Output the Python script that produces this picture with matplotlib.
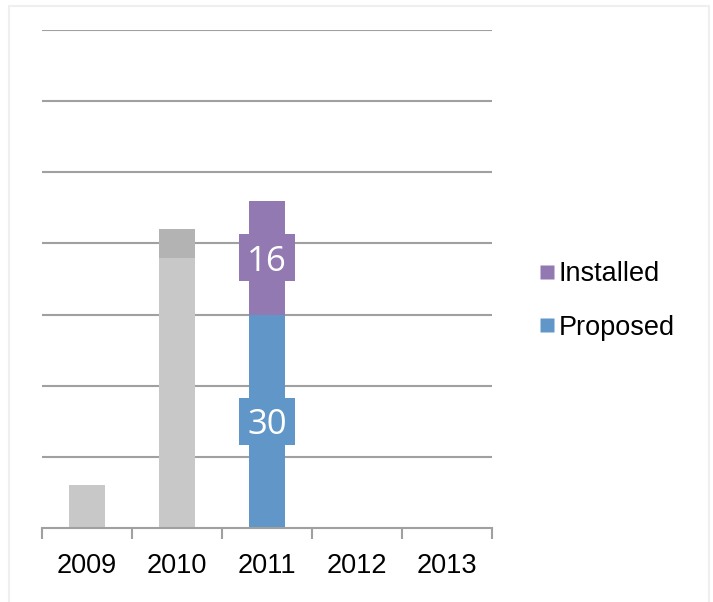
import matplotlib.pyplot as plt
from matplotlib.lines import Line2D
from matplotlib.patches import Rectangle
from matplotlib.transforms import ScaledTranslation

# data
years = ['2009', '2010', '2011', '2012', '2013']
earlier = [6, 38, 0, 0, 0]
earlier_extra = [0, 4, 0, 0, 0]
proposed = [0, 0, 30, 0, 0]
installed = [0, 0, 16, 0, 0]

c_gray = '#C8C8C8'
c_gray2 = '#B3B3B3'
c_blue = '#6096C8'
c_purple = '#9279B2'
c_grid = '#A0A0A0'

W, H = 713, 602
fig = plt.figure(figsize=(W / 100, H / 100), dpi=100)
fig.patches.append(Rectangle((9 / W, -0.1), 700 / W, 1.1 - 6 / H, transform=fig.transFigure,
                             fill=False, edgecolor='#EFEFEF', linewidth=1.5))

ax = fig.add_axes([42 / W, (H - 528) / H, 450 / W, 498 / H])
x = range(len(years))
bw = 0.41

ax.bar(x, earlier, bw, color=c_gray, zorder=2)
ax.bar(x, earlier_extra, bw, bottom=earlier, color=c_gray2, zorder=2)
ax.bar(x, proposed, bw, color=c_blue, zorder=2)
ax.bar(x, installed, bw, bottom=proposed, color=c_purple, zorder=2)


def value_label(xpos, ypos, txt, col):
    # box of fixed size (in inches) centred on the data point
    tr = fig.dpi_scale_trans + ScaledTranslation(xpos, ypos, ax.transData)
    ax.add_patch(Rectangle((-0.28, -0.235), 0.56, 0.47, transform=tr,
                           facecolor=col, edgecolor='none', zorder=3))
    ax.text(xpos, ypos, txt, ha='center', va='center_baseline', color='white',
            fontsize=25, family='Open Sans', zorder=4)


for i in x:
    if proposed[i]:
        value_label(i, proposed[i] / 2, str(proposed[i]), c_blue)
    if installed[i]:
        value_label(i, proposed[i] + installed[i] / 2, str(installed[i]), c_purple)

ax.set_xlim(-0.5, 4.5)
ax.set_ylim(0, 70)
ax.set_yticks(range(10, 71, 10))
ax.yaxis.grid(True, color=c_grid, linewidth=1.5)
ax.tick_params(axis='y', left=False, labelleft=False)
ax.set_axisbelow(True)

ax.set_xticks([i + 0.5 for i in range(-1, 5)], minor=False)
ax.set_xticklabels([])
ax.set_xticks(list(x), minor=True)
ax.set_xticklabels(years, minor=True, fontsize=19.5, family='Liberation Sans')
ax.tick_params(axis='x', which='major', length=8, width=1.5, color=c_grid)
ax.tick_params(axis='x', which='minor', length=0, pad=18)

for s in ['top', 'right', 'left']:
    ax.spines[s].set_visible(False)
ax.spines['bottom'].set_color(c_grid)
ax.spines['bottom'].set_linewidth(1.5)

handles = [Line2D([], [], marker='s', linestyle='none', markersize=9.4,
                  markerfacecolor=c_purple, markeredgecolor='none'),
           Line2D([], [], marker='s', linestyle='none', markersize=9.4,
                  markerfacecolor=c_blue, markeredgecolor='none')]
fig.legend(handles, ['Installed', 'Proposed'], loc='center left',
           bbox_to_anchor=(540 / W, 1 - 301 / H), frameon=False,
           prop={'family': 'Liberation Sans', 'size': 19.5},
           handlelength=0.5, handletextpad=0.2, labelspacing=1.0,
           borderpad=0, borderaxespad=0)

fig.savefig('out.png', dpi=100)
